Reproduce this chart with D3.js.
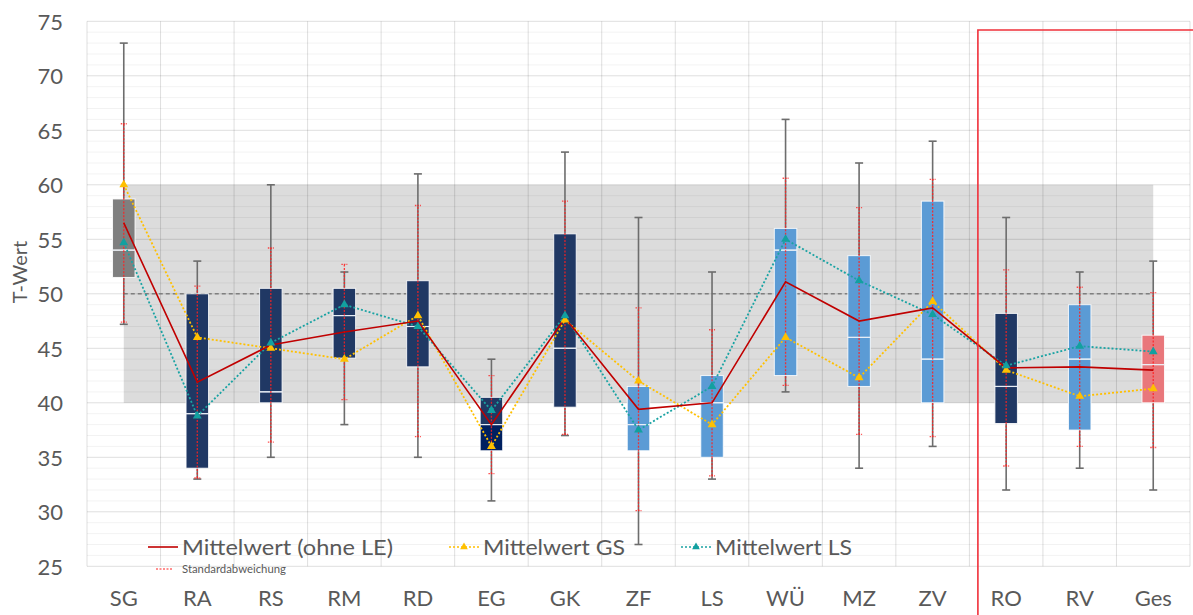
<!DOCTYPE html>
<html>
<head>
<meta charset="utf-8">
<script src="https://cdn.jsdelivr.net/npm/d3@7"></script>
<style>
  html, body { margin: 0; padding: 0; background: #fff; }
  svg { display: block; }
  text { font-family: Lato, "Open Sans", sans-serif; fill: #595959; }
</style>
</head>
<body>
<svg id="chart" width="1193" height="615"></svg>
<script>
// Skalen (T-Werte) je Bereich
const categories = ["SG", "RA", "RS", "RM", "RD", "EG", "GK", "ZF", "LS", "WÜ", "MZ", "ZV", "RO", "RV", "Ges"];
const minVals    = [47.2, 33, 35, 38, 35, 31, 37, 27, 33, 41, 34, 36, 32, 34, 32];
const q1Vals     = [51.5, 34, 40, 44.1, 43.3, 35.6, 39.6, 35.6, 35, 42.5, 41.5, 40, 38.1, 37.5, 40];
const medianVals = [54, 39, 41, 48, 47, 38, 45, 38, 40, 54, 46, 44, 41.5, 44, 43.5];
const q3Vals     = [58.7, 50, 50.5, 50.5, 51.2, 40.5, 55.5, 41.5, 42.5, 56, 53.5, 58.5, 48.2, 49, 46.2];
const maxVals    = [73, 53, 60, 52, 61, 44, 63, 57, 52, 66, 62, 64, 57, 52, 53];
const meanVals   = [56.5, 41.9, 45.3, 46.5, 47.5, 38.0, 47.8, 39.4, 40.0, 51.1, 47.5, 48.7, 43.2, 43.3, 43.0];
const sdVals     = [9.1, 8.8, 8.9, 6.2, 10.6, 4.5, 10.7, 9.3, 6.7, 9.5, 10.4, 11.8, 9.0, 7.3, 7.1];
const meanGS     = [60, 46, 45, 44, 48, 36, 47.6, 42, 38, 46, 42.3, 49.3, 43, 40.6, 41.3];
const meanLS     = [54.7, 38.8, 45.5, 49, 47, 39.3, 48, 37.5, 41.5, 55, 51.2, 48.1, 43.4, 45.2, 44.7];
const yTicks     = [25, 30, 35, 40, 45, 50, 55, 60, 65, 70, 75];
const normRange  = [40, 60];
const normMean   = 50;
const legendLabels = ["Mittelwert (ohne LE)", "Mittelwert GS", "Mittelwert LS", "Standardabweichung"];
const yTitle = "T-Wert";

// Farbgebung der Boxen
const boxFill = {
  SG: "#7f7f7f", RA: "#203864", RS: "#203864", RM: "#203864", RD: "#203864", EG: "#203864",
  GK: "#203864", ZF: "#5b9bd5", LS: "#5b9bd5", "WÜ": "#5b9bd5", MZ: "#5b9bd5", ZV: "#5b9bd5",
  RO: "#203864", RV: "#5b9bd5", Ges: "#e9777b"
};
const boxFillLower = { EG: "#002060" };

const rows = categories.map((c, i) => ({
  cat: c, min: minVals[i], q1: q1Vals[i], med: medianVals[i], q3: q3Vals[i], max: maxVals[i],
  mean: meanVals[i], sd: sdVals[i], gs: meanGS[i], ls: meanLS[i]
}));

const svg = d3.select("#chart");
const plot = { left: 87, right: 1190, top: 21.3, bottom: 566.3 };

const x = d3.scaleBand().domain(categories).range([plot.left, plot.right]).padding(0);
const y = d3.scaleLinear().domain([25, 75]).range([plot.bottom, plot.top]);
const cx = c => x(c) + x.bandwidth() / 2;

const firstC = cx(categories[0]);
const lastC = cx(categories[categories.length - 1]);

// Normbereich 40–60
svg.append("rect")
  .attr("x", firstC).attr("y", y(normRange[1]))
  .attr("width", lastC - firstC).attr("height", y(normRange[0]) - y(normRange[1]))
  .attr("fill", "#dcdcdc");

// Gitternetz
const grid = svg.append("g");
grid.selectAll("line.minor").data(d3.range(25, 76, 1).filter(v => v % 5 !== 0))
  .join("line")
  .attr("x1", plot.left).attr("x2", plot.right)
  .attr("y1", d => y(d)).attr("y2", d => y(d))
  .attr("stroke", "#000").attr("stroke-opacity", 0.05).attr("stroke-width", 1);
grid.selectAll("line.major").data(yTicks)
  .join("line")
  .attr("x1", plot.left).attr("x2", plot.right)
  .attr("y1", d => y(d)).attr("y2", d => y(d))
  .attr("stroke", "#000").attr("stroke-opacity", 0.13).attr("stroke-width", 1);
grid.selectAll("line.v").data(d3.range(categories.length + 1))
  .join("line")
  .attr("x1", i => plot.left + i * x.bandwidth()).attr("x2", i => plot.left + i * x.bandwidth())
  .attr("y1", plot.top).attr("y2", plot.bottom)
  .attr("stroke", "#000").attr("stroke-opacity", 0.13).attr("stroke-width", 1);

// Mittelwert der Norm (50)
svg.append("line")
  .attr("x1", firstC).attr("x2", lastC)
  .attr("y1", y(normMean)).attr("y2", y(normMean))
  .attr("stroke", "#7f7f7f").attr("stroke-width", 1.6).attr("stroke-dasharray", "4,3");

// Y-Achse
const yAxis = d3.axisLeft(y).tickValues(yTicks).tickSize(0).tickPadding(0);
const yg = svg.append("g").attr("transform", `translate(${plot.left - 24},0)`).call(yAxis);
yg.select(".domain").remove();
yg.selectAll("text").style("font-size", "22px").attr("fill", "#595959")
  .style("font-family", "Lato, 'Open Sans', sans-serif").attr("dy", "0.35em");

svg.append("text")
  .attr("transform", `translate(27,${y(52)}) rotate(-90)`)
  .attr("text-anchor", "middle").style("font-size", "20px").text(yTitle);

// X-Achse
const xAxis = d3.axisBottom(x).tickSize(0).tickPadding(0);
const xg = svg.append("g").attr("transform", `translate(0,${plot.bottom + 24})`).call(xAxis);
xg.select(".domain").remove();
xg.selectAll("text").style("font-size", "22px").attr("fill", "#595959")
  .style("font-family", "Lato, 'Open Sans', sans-serif").attr("dy", "0.71em");

// Whisker (Min–Max)
const capW = 8;
const wh = svg.append("g");
rows.forEach(d => {
  wh.append("line").attr("x1", cx(d.cat)).attr("x2", cx(d.cat))
    .attr("y1", y(d.min)).attr("y2", y(d.max))
    .attr("stroke", "#6d6d6d").attr("stroke-width", 1.6);
  [d.min, d.max].forEach(v => wh.append("line")
    .attr("x1", cx(d.cat) - capW / 2).attr("x2", cx(d.cat) + capW / 2)
    .attr("y1", y(v)).attr("y2", y(v))
    .attr("stroke", "#6d6d6d").attr("stroke-width", 1.6));
});

// Boxen (Q1–Median–Q3)
const boxW = 22.5;
const bx = svg.append("g");
rows.forEach(d => {
  const x0 = cx(d.cat) - boxW / 2;
  bx.append("rect").attr("x", x0).attr("y", y(d.q3))
    .attr("width", boxW).attr("height", y(d.med) - y(d.q3))
    .attr("fill", boxFill[d.cat]).attr("stroke", "#ffffff").attr("stroke-opacity", 0.85).attr("stroke-width", 1);
  bx.append("rect").attr("x", x0).attr("y", y(d.med))
    .attr("width", boxW).attr("height", y(d.q1) - y(d.med))
    .attr("fill", boxFillLower[d.cat] || boxFill[d.cat]).attr("stroke", "#ffffff").attr("stroke-opacity", 0.85).attr("stroke-width", 1);
  bx.append("line").attr("x1", x0).attr("x2", x0 + boxW)
    .attr("y1", y(d.med)).attr("y2", y(d.med))
    .attr("stroke", "#e6ecf5").attr("stroke-opacity", 0.8).attr("stroke-width", 1.2);
});

// Standardabweichung
const sdCap = 6;
const sdg = svg.append("g");
rows.forEach(d => {
  const lo = d.mean - d.sd, hi = d.mean + d.sd;
  sdg.append("line").attr("x1", cx(d.cat)).attr("x2", cx(d.cat))
    .attr("y1", y(lo)).attr("y2", y(hi))
    .attr("stroke", "#ff2020").attr("stroke-opacity", 0.85).attr("stroke-width", 1.3).attr("stroke-dasharray", "2,1.5");
  [lo, hi].forEach(v => sdg.append("line")
    .attr("x1", cx(d.cat) - sdCap / 2).attr("x2", cx(d.cat) + sdCap / 2)
    .attr("y1", y(v)).attr("y2", y(v))
    .attr("stroke", "#ff2020").attr("stroke-opacity", 0.8).attr("stroke-width", 1.3).attr("stroke-dasharray", "1.5,1"));
});

// Mittelwert-Linien
const lineGen = key => d3.line().x(d => cx(d.cat)).y(d => y(d[key]));
svg.append("path").datum(rows).attr("d", lineGen("gs"))
  .attr("fill", "none").attr("stroke", "#ffc000").attr("stroke-width", 1.8).attr("stroke-dasharray", "2,2");
svg.append("path").datum(rows).attr("d", lineGen("ls"))
  .attr("fill", "none").attr("stroke", "#1aa3a3").attr("stroke-width", 1.8).attr("stroke-dasharray", "2,2");
svg.append("path").datum(rows).attr("d", lineGen("mean"))
  .attr("fill", "none").attr("stroke", "#c00000").attr("stroke-width", 1.6);

const tri = d3.symbol().type(d3.symbolTriangle).size(34);
svg.append("g").selectAll("path").data(rows).join("path")
  .attr("d", tri).attr("transform", d => `translate(${cx(d.cat)},${y(d.gs)})`).attr("fill", "#ffc000");
svg.append("g").selectAll("path").data(rows).join("path")
  .attr("d", tri).attr("transform", d => `translate(${cx(d.cat)},${y(d.ls)})`).attr("fill", "#12a0a0");

// Markierung der Gesamtskalen (RO, RV, Ges)
const frameX = x("RO") + 8.5;
svg.append("path")
  .attr("d", `M${frameX},615 L${frameX},30 L1193,30`)
  .attr("fill", "none").attr("stroke", "#f0303a").attr("stroke-width", 1.6);

// Legende
const lg = svg.append("g");
const legY = 547;
lg.append("line").attr("x1", 148).attr("x2", 178).attr("y1", legY).attr("y2", legY)
  .attr("stroke", "#c00000").attr("stroke-width", 1.6);
lg.append("text").attr("x", 182).attr("y", legY + 8).style("font-size", "22px")
  .attr("textLength", 211).attr("lengthAdjust", "spacingAndGlyphs").text(legendLabels[0]);

lg.append("line").attr("x1", 449).attr("x2", 479).attr("y1", legY).attr("y2", legY)
  .attr("stroke", "#ffc000").attr("stroke-width", 1.6).attr("stroke-dasharray", "2,2");
lg.append("path").attr("d", d3.symbol().type(d3.symbolTriangle).size(26))
  .attr("transform", `translate(464,${legY})`).attr("fill", "#ffc000");
lg.append("text").attr("x", 483).attr("y", legY + 8).style("font-size", "22px")
  .attr("textLength", 142).attr("lengthAdjust", "spacingAndGlyphs").text(legendLabels[1]);

lg.append("line").attr("x1", 681).attr("x2", 711).attr("y1", legY).attr("y2", legY)
  .attr("stroke", "#1aa3a3").attr("stroke-width", 1.6).attr("stroke-dasharray", "2,2");
lg.append("path").attr("d", d3.symbol().type(d3.symbolTriangle).size(26))
  .attr("transform", `translate(696,${legY})`).attr("fill", "#12a0a0");
lg.append("text").attr("x", 715).attr("y", legY + 8).style("font-size", "22px")
  .attr("textLength", 137).attr("lengthAdjust", "spacingAndGlyphs").text(legendLabels[2]);

lg.append("line").attr("x1", 156).attr("x2", 172).attr("y1", 569).attr("y2", 569)
  .attr("stroke", "#ff2020").attr("stroke-width", 1.2).attr("stroke-dasharray", "2,1.5");
lg.append("text").attr("x", 182).attr("y", 573).style("font-size", "11px").attr("fill", "#222")
  .attr("textLength", 104).attr("lengthAdjust", "spacingAndGlyphs").text(legendLabels[3]);
</script>
</body>
</html>
